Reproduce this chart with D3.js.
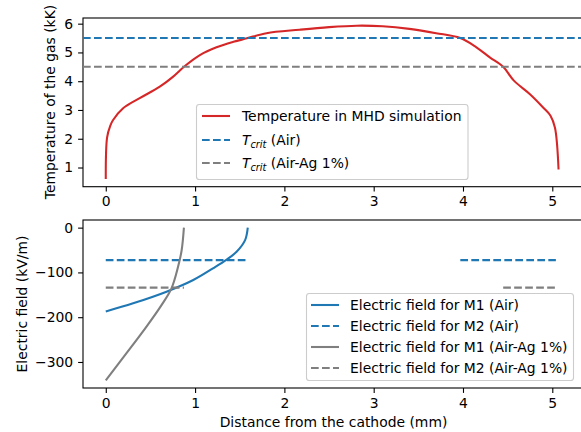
<!DOCTYPE html>
<html><head><meta charset="utf-8">
<script src="https://cdn.jsdelivr.net/npm/d3@7"></script>
<style>
body{margin:0;background:#fff;}
text{font-family:"DejaVu Sans",sans-serif;fill:#000;}
</style></head>
<body><svg id="c" width="581" height="432"></svg>
<script>
// ---- data ----
const tempX = [0, 0.015, 0.05, 0.082, 0.194, 0.38, 0.605, 0.755, 0.886, 1.054, 1.24, 1.43, 1.58, 1.8, 2.17, 2.5, 2.81, 3.1, 3.4, 3.7, 3.97, 4.15, 4.3, 4.45, 4.57, 4.75, 4.9, 4.98, 5.03, 5.07];
const tempY = [0.6, 2.05, 2.45, 2.65, 3.06, 3.41, 3.81, 4.16, 4.53, 4.91, 5.18, 5.37, 5.49, 5.67, 5.79, 5.88, 5.93, 5.91, 5.82, 5.67, 5.5, 5.18, 4.83, 4.5, 4.02, 3.55, 3.08, 2.8, 2.38, 0.93];
const tcritAir = 5.5;
const tcritAg = 4.5;
const m1AirX = [0, 0.306, 0.68, 0.98, 1.2, 1.35, 1.465, 1.56, 1.59];
const m1AirE = [-187, -169, -143, -117, -91, -72, -54, -28, 0];
const m1AgX = [0, 0.23, 0.456, 0.624, 0.736, 0.81, 0.85, 0.875];
const m1AgE = [-341, -281, -221, -173, -135.6, -87, -50, 0];
const m2AirE = -72.5;
const m2AirSegs = [[0, 1.59], [3.97, 5.04]];
const m2AgE = -134;
const m2AgSegs = [[0, 0.875], [4.45, 5.04]];
const xTicks = [0, 1, 2, 3, 4, 5];
const tTicks = [1, 2, 3, 4, 5, 6];
const eTicks = [0, -100, -200, -300];
const legendTop = ["Temperature in MHD simulation", "(Air)", "(Air-Ag 1%)"];
const legendBottom = ["Electric field for M1 (Air)", "Electric field for M2 (Air)", "Electric field for M1 (Air-Ag 1%)", "Electric field for M2 (Air-Ag 1%)"];

const RED = "#d62728", BLUE = "#1f77b4", GRAY = "#7f7f7f";
const FS = 13.9, LW = 2.08, DASH = "7.7,3.3";
const svg = d3.select("#c");

const x = d3.scaleLinear().domain([-0.255, 5.355]).range([83, 584]);
const yT = d3.scaleLinear().domain([0.333, 6.197]).range([186.7, 18]);
const yE = d3.scaleLinear().domain([-358.1, 17.05]).range([388, 220]);
const curve = d3.curveCatmullRom.alpha(0.5);

function axes(y, ticks, fmt, top, bottom) {
  const g = svg.append("g");
  const xa = g.append("g").attr("transform", `translate(0,${bottom})`)
    .call(d3.axisBottom(x).tickValues(xTicks).tickSize(4.9).tickPadding(4.9).tickFormat(d3.format("d")));
  const ya = g.append("g").attr("transform", `translate(83,0)`)
    .call(d3.axisLeft(y).tickValues(ticks).tickSize(4.9).tickPadding(4.9).tickFormat(fmt));
  [xa, ya].forEach(a => {
    a.select(".domain").remove();
    a.selectAll("line").attr("stroke", "#000").attr("stroke-width", 1.1);
    a.selectAll("text").attr("font-size", FS).attr("font-family", "DejaVu Sans").attr("fill", "#000");
  });
  g.append("rect").attr("x", 83).attr("y", top).attr("width", 501).attr("height", bottom - top)
    .attr("fill", "none").attr("stroke", "#000").attr("stroke-width", 1.1);
  return g;
}

// ---- top panel ----
axes(yT, tTicks, d3.format("d"), 18, 186.7);
svg.append("clipPath").attr("id", "ct").append("rect").attr("x", 83).attr("y", 18).attr("width", 501).attr("height", 168.7);
const gT = svg.append("g").attr("clip-path", "url(#ct)");
const tData = tempX.map((v, i) => [v, tempY[i]]);
gT.append("path").datum(tData).attr("fill", "none").attr("stroke", RED).attr("stroke-width", LW)
  .attr("d", d3.line().x(d => x(d[0])).y(d => yT(d[1])).curve(curve));
[[tcritAir, BLUE], [tcritAg, GRAY]].forEach(([v, c]) => {
  gT.append("line").attr("x1", x.range()[0]).attr("x2", x.range()[1]).attr("y1", yT(v)).attr("y2", yT(v))
    .attr("stroke", c).attr("stroke-width", LW).attr("stroke-dasharray", DASH);
});

// ---- bottom panel ----
axes(yE, eTicks, d => d === 0 ? "0" : "\u2212" + Math.abs(d), 220, 388);
svg.append("clipPath").attr("id", "cb").append("rect").attr("x", 83).attr("y", 220).attr("width", 501).attr("height", 168);
const gB = svg.append("g").attr("clip-path", "url(#cb)");
const lineE = d3.line().x(d => x(d[0])).y(d => yE(d[1])).curve(curve);
gB.append("path").datum(m1AirX.map((v, i) => [v, m1AirE[i]])).attr("fill", "none").attr("stroke", BLUE).attr("stroke-width", LW).attr("d", lineE);
m2AirSegs.forEach(s => gB.append("line").attr("x1", x(s[0])).attr("x2", x(s[1])).attr("y1", yE(m2AirE)).attr("y2", yE(m2AirE))
  .attr("stroke", BLUE).attr("stroke-width", LW).attr("stroke-dasharray", DASH));
gB.append("path").datum(m1AgX.map((v, i) => [v, m1AgE[i]])).attr("fill", "none").attr("stroke", GRAY).attr("stroke-width", LW).attr("d", lineE);
m2AgSegs.forEach(s => gB.append("line").attr("x1", x(s[0])).attr("x2", x(s[1])).attr("y1", yE(m2AgE)).attr("y2", yE(m2AgE))
  .attr("stroke", GRAY).attr("stroke-width", LW).attr("stroke-dasharray", DASH));

// ---- axis labels ----
svg.append("text").attr("x", 333.5).attr("y", 427).attr("text-anchor", "middle").attr("font-size", FS).text("Distance from the cathode (mm)");
svg.append("text").attr("transform", "translate(55,102) rotate(-90)").attr("text-anchor", "middle").attr("font-size", FS).text("Temperature of the gas (kK)");
svg.append("text").attr("transform", "translate(27,304) rotate(-90)").attr("text-anchor", "middle").attr("font-size", FS).text("Electric field (kV/m)");

// ---- legends ----
function legendBox(x0, y0, w, h) {
  svg.append("rect").attr("x", x0).attr("y", y0).attr("width", w).attr("height", h).attr("rx", 2.8)
    .attr("fill", "#fff").attr("fill-opacity", 0.8).attr("stroke", "#cccccc").attr("stroke-width", 1.1);
}
legendBox(196.5, 104.5, 271.5, 75);
const topRows = [[116, RED, null], [140, BLUE, DASH], [163, GRAY, DASH]];
topRows.forEach(([yy, c, d], i) => {
  svg.append("line").attr("x1", 202).attr("x2", 230).attr("y1", yy).attr("y2", yy).attr("stroke", c).attr("stroke-width", LW).attr("stroke-dasharray", d);
  const t = svg.append("text").attr("x", 242).attr("y", yy + 5).attr("font-size", FS);
  if (i === 0) t.text(legendTop[0]);
  else {
    t.append("tspan").attr("font-style", "italic").text("T");
    t.append("tspan").attr("font-style", "italic").attr("font-size", FS * 0.7).attr("dy", 3).text("crit");
    t.append("tspan").attr("dy", -3).text(" " + legendTop[i]);
  }
});
legendBox(306.5, 293.5, 267, 87);
const botRows = [[305, BLUE, null], [326, BLUE, DASH], [347, GRAY, null], [368, GRAY, DASH]];
botRows.forEach(([yy, c, d], i) => {
  svg.append("line").attr("x1", 311).attr("x2", 339).attr("y1", yy).attr("y2", yy).attr("stroke", c).attr("stroke-width", LW).attr("stroke-dasharray", d);
  svg.append("text").attr("x", 350).attr("y", yy + 5).attr("font-size", FS).text(legendBottom[i]);
});
</script></body></html>
